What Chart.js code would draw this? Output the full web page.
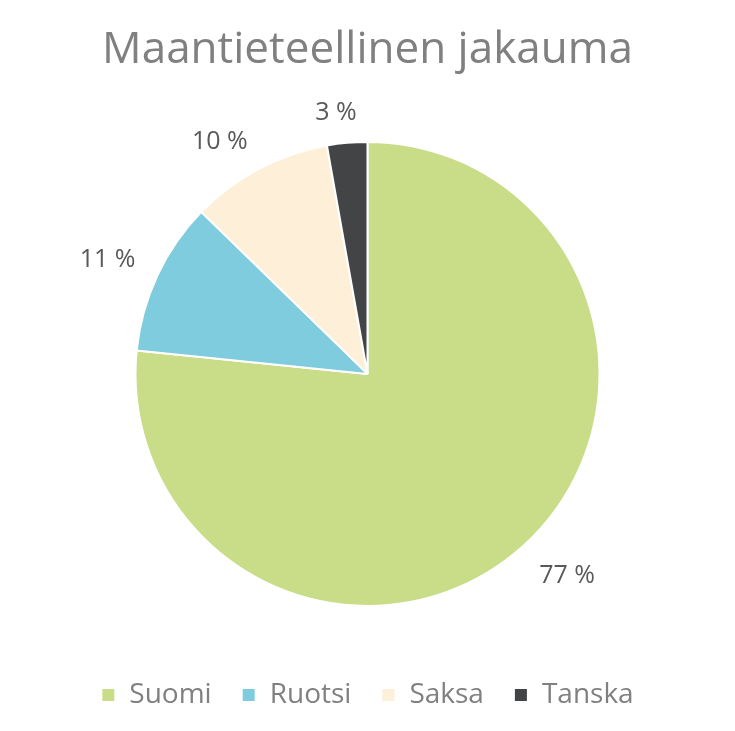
<!DOCTYPE html>
<html>
<head>
<meta charset="utf-8">
<script src="https://cdn.jsdelivr.net/npm/chart.js@4"></script>
<style>
  html, body { margin: 0; padding: 0; background: #fff; }
  #wrap { width: 735px; height: 731px; }
</style>
</head>
<body>
<div id="wrap"><canvas id="pie"></canvas></div>
<script>
// maat ja osuudet (luettu kuvasta)
const maat = ["Suomi", "Ruotsi", "Saksa", "Tanska"];
const osuudet = [76.6, 10.7, 9.9, 2.8];
const varit = ["#C9DC87", "#7ECCDD", "#FDEFD8", "#434446"];

const fontti = '"Open Sans", Lato, sans-serif';

// prosenttilaput sektorien ulkopuolelle: laatikon lähin kulma sektorin keskisuunnalle
const labelPlugin = {
    id: 'ulkoLaput',
    afterDatasetsDraw(chart) {
        const ctx = chart.ctx;
        const meta = chart.getDatasetMeta(0);
        const total = osuudet.reduce((a, b) => a + b, 0);
        ctx.save();
        ctx.font = '25px ' + fontti;
        ctx.fillStyle = '#595959';
        ctx.textAlign = 'center';
        ctx.textBaseline = 'middle';
        meta.data.forEach((arc, i) => {
            const p = arc.getProps(['x', 'y', 'startAngle', 'endAngle', 'outerRadius'], true);
            const txt = Math.round(osuudet[i] / total * 100) + ' %';
            const mid = (p.startAngle + p.endAngle) / 2;
            const c = Math.cos(mid), s = Math.sin(mid);
            const hw = ctx.measureText(txt).width / 2;
            const hh = 9;
            const d = p.outerRadius + 24;
            const ax = p.x + c * d, ay = p.y + s * d;
            const fx = Math.min(1, Math.abs(c) * 5), fy = Math.min(1, Math.abs(s) * 5);
            ctx.fillText(txt, ax + Math.sign(c) * fx * hw, ay + Math.sign(s) * fy * hh + 3);
        });
        ctx.restore();
    }
};

new Chart(document.getElementById('pie'), {
    type: 'pie',
    data: {
        labels: maat,
        datasets: [{
            data: osuudet,
            backgroundColor: varit,
            borderColor: '#ffffff',
            borderWidth: 2
        }]
    },
    options: {
        responsive: true,
        maintainAspectRatio: false,
        animation: false,
        radius: 232,
        layout: { padding: { top: 4, bottom: 12 } },
        plugins: {
            title: {
                display: true,
                text: 'Maantieteellinen jakauma',
                color: '#808080',
                font: { size: 44, family: fontti, weight: 'normal' },
                padding: { top: 20, bottom: 20 }
            },
            legend: {
                position: 'bottom',
                labels: {
                    color: '#808080',
                    font: { size: 28, family: fontti },
                    boxWidth: 14,
                    boxHeight: 14,
                    padding: 30
                }
            },
            tooltip: { enabled: false }
        }
    },
    plugins: [labelPlugin]
});
</script>
</body>
</html>
